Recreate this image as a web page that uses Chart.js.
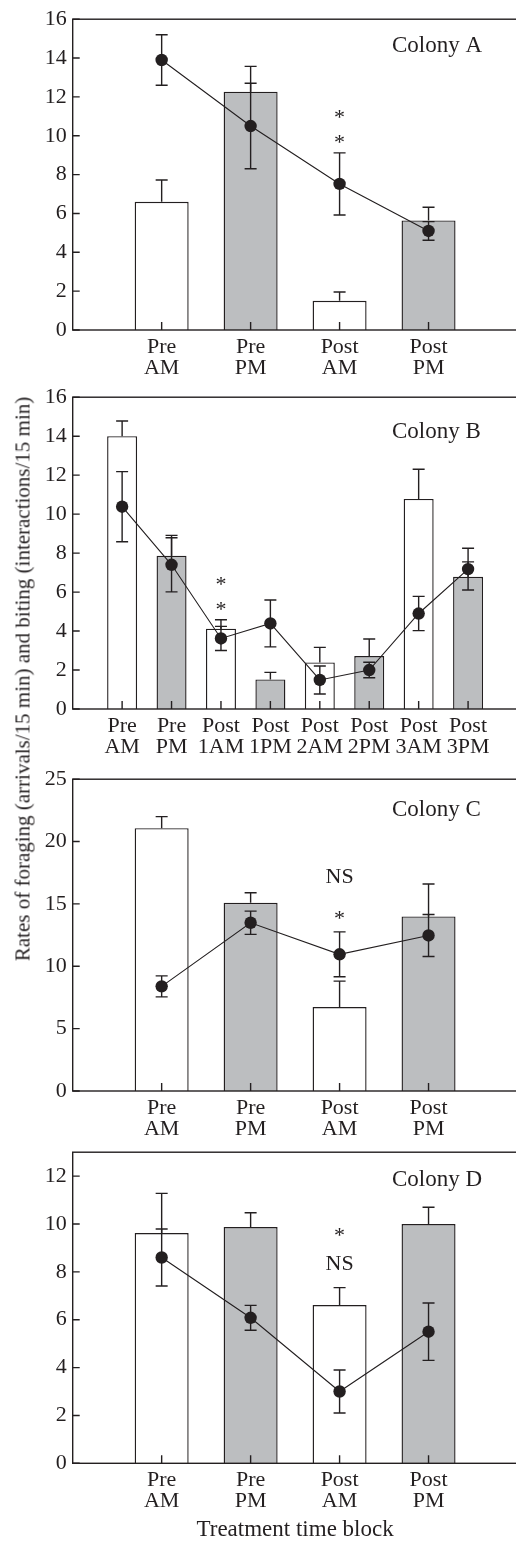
<!DOCTYPE html>
<html>
<head>
<meta charset="utf-8">
<title>Foraging and biting rates by colony</title>
<script src="https://cdn.jsdelivr.net/npm/chart.js@4.4.1/dist/chart.umd.min.js"></script>
<style>
  html, body { margin: 0; padding: 0; background: #fff; overflow: hidden; }
  #page { position: relative; width: 516px; height: 1542px; overflow: hidden; }
  #page canvas { position: absolute; left: 0; }
  #ytitle {
    position: absolute; left: 23px; top: 679px;
    transform: translate(-50%, -50%) rotate(-90deg);
    white-space: nowrap; color: #231f20;
    font: 21px "Liberation Serif", "Times New Roman", serif;
  }
</style>
</head>
<body>
<div id="page">
  <canvas id="chartA"></canvas>
  <canvas id="chartB"></canvas>
  <canvas id="chartC"></canvas>
  <canvas id="chartD"></canvas>
  <div id="ytitle">Rates of foraging (arrivals/15 min) and biting (interactions/15 min)</div>
</div>
<script>
// colony A
const labelsA = [['Pre', 'AM'], ['Pre', 'PM'], ['Post', 'AM'], ['Post', 'PM']];
const barsA = [6.6, 12.27, 1.5, 5.64];       // foraging (bars)
const barErrA = [1.12, 1.3, 0.46, 0.68];
const pointsA = [13.9, 10.5, 7.52, 5.1];     // biting (points)
const pointErrA = [1.3, 2.2, 1.6, 0.48];
const notesA = [{ at: 2, y: 11.1, text: '*' }, { at: 2, y: 9.8, text: '*' }];

// colony B
const labelsB = [['Pre', 'AM'], ['Pre', 'PM'], ['Post', '1AM'], ['Post', '1PM'],
                 ['Post', '2AM'], ['Post', '2PM'], ['Post', '3AM'], ['Post', '3PM']];
const barsB = [14.0, 7.87, 4.12, 1.52, 2.39, 2.72, 10.78, 6.78];
const barErrB = [0.78, 1.04, 0.46, 0.36, 0.77, 0.87, 1.52, 0.77];
const pointsB = [10.38, 7.4, 3.62, 4.39, 1.49, 2.0, 4.9, 7.18];
const pointErrB = [1.8, 1.39, 0.62, 1.2, 0.72, 0.4, 0.88, 1.07];
const notesB = [{ at: 2, y: 6.52, text: '*' }, { at: 2, y: 5.24, text: '*' }];

// colony C
const labelsC = [['Pre', 'AM'], ['Pre', 'PM'], ['Post', 'AM'], ['Post', 'PM']];
const barsC = [21.07, 15.09, 6.73, 14.0];
const barErrC = [0.93, 0.8, 2.08, 2.6];
const pointsC = [8.39, 13.49, 10.96, 12.47];
const pointErrC = [0.84, 0.93, 1.8, 1.68];
const notesC = [{ at: 2, y: 17.12, text: 'NS' }, { at: 2, y: 14.02, text: '*' }];

// colony D
const labelsD = [['Pre', 'AM'], ['Pre', 'PM'], ['Post', 'AM'], ['Post', 'PM']];
const barsD = [9.62, 9.87, 6.61, 10.0];
const barErrD = [1.66, 0.6, 0.73, 0.7];
const pointsD = [8.6, 6.08, 3.0, 5.5];
const pointErrD = [1.19, 0.52, 0.9, 1.2];
const notesD = [{ at: 2, y: 9.62, text: '*' }, { at: 2, y: 8.3, text: 'NS' }];

const INK = '#231f20';
const GREY = '#bcbec0';
const FONT = '"Liberation Serif", "Times New Roman", serif';

Chart.defaults.font.family = FONT;
Chart.defaults.color = INK;

function padded(arr) {
    return [null, ...arr, null];
}

function makePanel(p) {
    const canvas = document.getElementById(p.id);
    canvas.width = 524;
    canvas.height = p.canvasBottom - p.canvasTop;
    canvas.style.top = p.canvasTop + 'px';

    const n = p.labels.length;
    const labels = ['', ...p.labels, ''];

    const extras = {
        id: 'extras',
        beforeDatasetDraw(chart, args) {
            // error bars go between the bars and the biting line
            if (args.index !== 1) return;
            const { ctx } = chart;
            const x = chart.scales.x, y = chart.scales.y;
            const cap = 6;
            ctx.save();
            ctx.strokeStyle = INK;
            ctx.lineWidth = 1.4;
            for (let i = 0; i < n; i++) {
                const cx = x.getPixelForValue(i + 1);
                // bar: upward only
                const b0 = y.getPixelForValue(p.bars[i]);
                const b1 = y.getPixelForValue(p.bars[i] + p.barErr[i]);
                ctx.beginPath();
                ctx.moveTo(cx, b0); ctx.lineTo(cx, b1);
                ctx.moveTo(cx - cap, b1); ctx.lineTo(cx + cap, b1);
                ctx.stroke();
                // point: both ways
                const lo = y.getPixelForValue(p.points[i] - p.pointErr[i]);
                const hi = y.getPixelForValue(p.points[i] + p.pointErr[i]);
                ctx.beginPath();
                ctx.moveTo(cx, lo); ctx.lineTo(cx, hi);
                ctx.moveTo(cx - cap, lo); ctx.lineTo(cx + cap, lo);
                ctx.moveTo(cx - cap, hi); ctx.lineTo(cx + cap, hi);
                ctx.stroke();
            }
            ctx.restore();
        },
        afterDraw(chart) {
            const { ctx, chartArea: a } = chart;
            const x = chart.scales.x, y = chart.scales.y;
            ctx.save();
            ctx.strokeStyle = INK;
            ctx.lineWidth = 1.4;
            ctx.strokeRect(a.left, a.top, a.right - a.left, a.bottom - a.top);
            // inward tick marks
            ctx.beginPath();
            for (let i = 0; i < n; i++) {
                const tx = x.getPixelForValue(i + 1);
                ctx.moveTo(tx, a.bottom); ctx.lineTo(tx, a.bottom - 8);
            }
            y.ticks.forEach(t => {
                const ty = y.getPixelForValue(t.value);
                ctx.moveTo(a.left, ty); ctx.lineTo(a.left + 7, ty);
            });
            ctx.stroke();

            ctx.fillStyle = INK;
            ctx.textBaseline = 'middle';
            ctx.textAlign = 'left';
            ctx.font = '23px ' + FONT;
            ctx.fillText(p.colony, 392, a.top + p.colonyDy);

            ctx.textAlign = 'center';
            ctx.font = '22px ' + FONT;
            p.notes.forEach(note => {
                const nx = x.getPixelForValue(note.at + 1);
                const ny = y.getPixelForValue(note.y) + (note.text === '*' ? 3.5 : 0);
                ctx.fillText(note.text, nx, ny);
            });
            ctx.restore();
        }
    };

    const xHeight = p.canvasBottom - p.areaBottom;

    return new Chart(canvas, {
        data: {
            labels: labels,
            datasets: [
                {
                    type: 'bar',
                    data: padded(p.bars),
                    backgroundColor: labels.map((l, i) => (i % 2 === 1 ? '#ffffff' : GREY)),
                    borderColor: INK,
                    borderWidth: 1.4,
                    categoryPercentage: 1,
                    barPercentage: 0.607,
                    order: 2,
                },
                {
                    type: 'line',
                    data: padded(p.points),
                    borderColor: INK,
                    borderWidth: 1.1,
                    pointRadius: 6.2,
                    pointBackgroundColor: INK,
                    pointBorderWidth: 0,
                    order: 1,
                },
            ],
        },
        options: {
            responsive: false,
            devicePixelRatio: 1,
            animation: false,
            layout: {
                padding: { top: p.areaTop - p.canvasTop, left: 0, right: 6, bottom: 0 },
            },
            plugins: {
                legend: { display: false },
                tooltip: { enabled: false },
            },
            scales: {
                x: {
                    type: 'category',
                    offset: false,
                    grid: { display: false, drawTicks: false },
                    border: { display: false },
                    ticks: {
                        autoSkip: false,
                        maxRotation: 0,
                        padding: 6.5,
                        font: { size: 22, lineHeight: 0.955 },
                    },
                    title: {
                        display: !!p.xTitle,
                        text: p.xTitle || '',
                        font: { size: 23, lineHeight: 1 },
                        padding: { top: 0, bottom: 0.5 },
                    },
                    afterFit: s => { s.height = xHeight; },
                },
                y: {
                    min: 0,
                    max: p.yMax,
                    grid: { display: false, drawTicks: false },
                    border: { display: false },
                    ticks: {
                        stepSize: p.yStep,
                        includeBounds: false,
                        padding: 6,
                        font: { size: 22 },
                    },
                    afterFit: s => { s.width = 72.7; },
                },
            },
        },
        plugins: [extras],
    });
}

makePanel({
    id: 'chartA', canvasTop: 0, canvasBottom: 380, areaTop: 18.3, areaBottom: 330,
    labels: labelsA, bars: barsA, barErr: barErrA, points: pointsA, pointErr: pointErrA,
    notes: notesA, yMax: 16, yStep: 2, colony: 'Colony A', colonyDy: 26.7,
});
makePanel({
    id: 'chartB', canvasTop: 378, canvasBottom: 759, areaTop: 396.7, areaBottom: 709,
    labels: labelsB, bars: barsB, barErr: barErrB, points: pointsB, pointErr: pointErrB,
    notes: notesB, yMax: 16, yStep: 2, colony: 'Colony B', colonyDy: 35,
});
makePanel({
    id: 'chartC', canvasTop: 760, canvasBottom: 1141, areaTop: 779, areaBottom: 1091,
    labels: labelsC, bars: barsC, barErr: barErrC, points: pointsC, pointErr: pointErrC,
    notes: notesC, yMax: 25, yStep: 5, colony: 'Colony C', colonyDy: 30.3,
});
makePanel({
    id: 'chartD', canvasTop: 1133, canvasBottom: 1542, areaTop: 1152, areaBottom: 1463.3,
    labels: labelsD, bars: barsD, barErr: barErrD, points: pointsD, pointErr: pointErrD,
    notes: notesD, yMax: 13, yStep: 2, colony: 'Colony D', colonyDy: 28,
    xTitle: 'Treatment time block',
});
</script>
</body>
</html>
